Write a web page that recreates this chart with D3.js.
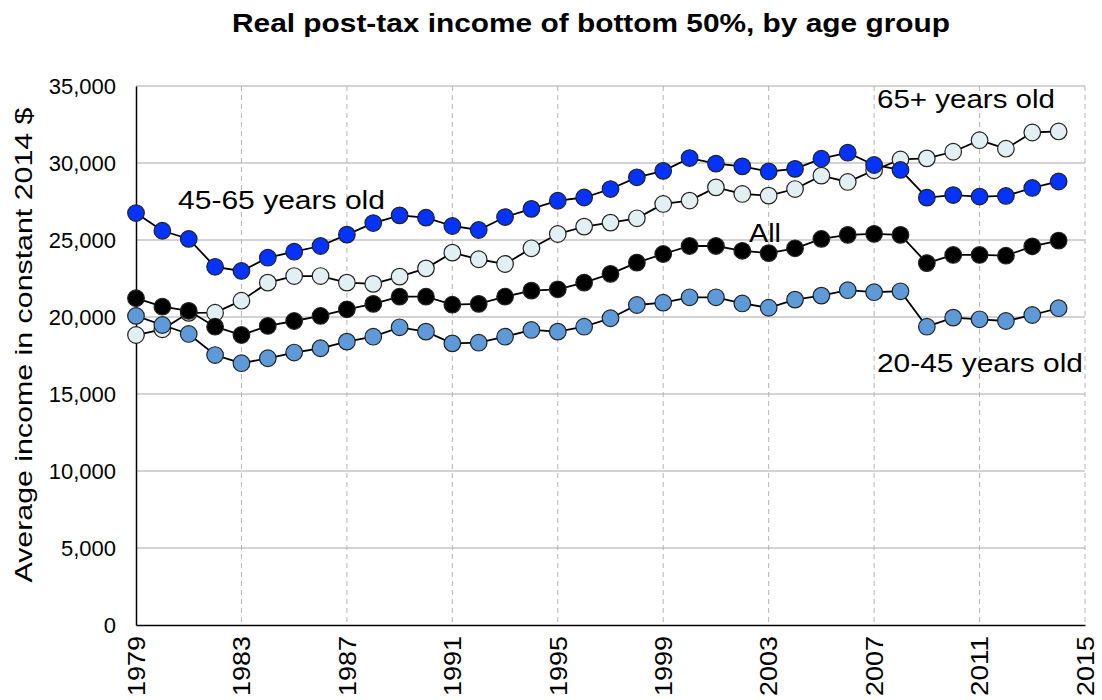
<!DOCTYPE html>
<html>
<head>
<meta charset="utf-8">
<script src="https://cdn.jsdelivr.net/npm/d3@7"></script>
<style>
  body { margin: 0; background: #fff; }
  text { font-family: "Liberation Sans", Arial, sans-serif; fill: #000; }
</style>
</head>
<body>
<svg id="chart" width="1102" height="700"></svg>
<script>
var years = d3.range(1979, 2015)

// 45-65 years old
var age4565 = [26750, 25600, 25070, 23260, 22990, 23850, 24240, 24610, 25350, 26100,
  26600, 26450, 25910, 25650, 26490, 27020, 27550, 27760, 28310, 29070,
  29490, 30320, 29960, 29780, 29450, 29620, 30280, 30670, 29870, 29550,
  27750, 27920, 27820, 27860, 28380, 28800]
// 65+ years old
var age65 = [18830, 19200, 20270, 20280, 21060, 22230, 22660, 22660, 22230, 22150,
  22620, 23160, 24180, 23750, 23440, 24460, 25390, 25870, 26130, 26410,
  27340, 27560, 28420, 27990, 27880, 28310, 29180, 28770, 29530, 30230,
  30300, 30730, 31480, 30930, 31980, 32050]
// All
var ageAll = [21220, 20670, 20400, 19370, 18830, 19420, 19740, 20070, 20500, 20850,
  21320, 21320, 20800, 20850, 21320, 21710, 21800, 22230, 22800, 23530,
  24090, 24610, 24610, 24300, 24150, 24460, 25070, 25330, 25400, 25330,
  23500, 24030, 24030, 23980, 24590, 24960]
// 20-45 years old
var age2045 = [20070, 19480, 18900, 17530, 17000, 17320, 17690, 17970, 18400, 18720,
  19330, 19050, 18290, 18330, 18720, 19160, 19050, 19370, 19920, 20780,
  20930, 21280, 21280, 20880, 20600, 21130, 21390, 21740, 21610, 21670,
  19370, 19960, 19850, 19740, 20130, 20570]

var yTicks = [0, 5000, 10000, 15000, 20000, 25000, 30000, 35000]
var xTicks = [1979, 1983, 1987, 1991, 1995, 1999, 2003, 2007, 2011, 2015]

var series = [
  { name: '65+ years old', values: age65, color: '#e2eff3' },
  { name: '45-65 years old', values: age4565, color: '#0433ff' },
  { name: 'All', values: ageAll, color: '#000000' },
  { name: '20-45 years old', values: age2045, color: '#5e9ad8' }
]

var svg = d3.select('#chart')
var margin = { left: 136, right: 17, top: 86, bottom: 75 }
var width = 1102 - margin.left - margin.right
var height = 700 - margin.top - margin.bottom

var x = d3.scaleLinear().domain([1979, 2015]).range([margin.left, margin.left + width])
var y = d3.scaleLinear().domain([0, 35000]).range([margin.top + height, margin.top])

// horizontal grid
svg.append('g')
  .selectAll('line')
  .data(yTicks.slice(1))
  .enter().append('line')
  .attr('x1', x(1979)).attr('x2', x(2015))
  .attr('y1', function(d) { return y(d) })
  .attr('y2', function(d) { return y(d) })
  .attr('stroke', '#c4c4c4')
  .attr('stroke-width', 1.5)

// vertical grid (dashed)
svg.append('g')
  .selectAll('line')
  .data(xTicks.slice(1))
  .enter().append('line')
  .attr('x1', function(d) { return x(d) })
  .attr('x2', function(d) { return x(d) })
  .attr('y1', y(35000)).attr('y2', y(0))
  .attr('stroke', '#b5b5b5')
  .attr('stroke-width', 1)
  .attr('stroke-dasharray', '5,4')

// axes
var yAxis = svg.append('g')
  .attr('transform', 'translate(' + x(1979) + ',0)')
  .call(d3.axisLeft(y).tickValues(yTicks).tickSize(0).tickPadding(20)
    .tickFormat(d3.format(',')))
yAxis.select('.domain').attr('stroke', '#000').attr('stroke-width', 1.5)
yAxis.selectAll('text').style('font-size', '22px').attr('fill', '#000')

var xAxis = svg.append('g')
  .attr('transform', 'translate(0,' + y(0) + ')')
  .call(d3.axisBottom(x).tickValues(xTicks).tickSize(0).tickFormat(d3.format('d')))
xAxis.select('.domain').attr('stroke', '#000').attr('stroke-width', 1.5)
xAxis.selectAll('text')
  .style('font-size', '23px')
  .attr('fill', '#000')
  .attr('transform', 'rotate(-90)')
  .attr('text-anchor', 'end')
  .attr('x', -11)
  .attr('y', 0)
  .attr('dy', '0.36em')
  .attr('textLength', 60)
  .attr('lengthAdjust', 'spacingAndGlyphs')

// y title
svg.append('text')
  .attr('transform', 'translate(32,345) rotate(-90)')
  .attr('text-anchor', 'middle')
  .style('font-size', '24px')
  .attr('textLength', 475)
  .attr('lengthAdjust', 'spacingAndGlyphs')
  .text('Average income in constant 2014 $')

// title
svg.append('text')
  .attr('x', 232).attr('y', 32)
  .style('font-size', '26px')
  .style('font-weight', 'bold')
  .attr('textLength', 718)
  .attr('lengthAdjust', 'spacingAndGlyphs')
  .text('Real post-tax income of bottom 50%, by age group')

var line = d3.line()
  .x(function(d, i) { return x(years[i]) })
  .y(function(d) { return y(d) })

var groups = svg.selectAll('.series')
  .data(series)
  .enter().append('g')
  .attr('class', 'series')

groups.append('path')
  .attr('d', function(s) { return line(s.values) })
  .attr('fill', 'none')
  .attr('stroke', '#000')
  .attr('stroke-width', 1.8)

groups.selectAll('circle')
  .data(function(s) { return s.values.map(function(v, i) { return { v: v, i: i, c: s.color } }) })
  .enter().append('circle')
  .attr('cx', function(d) { return x(years[d.i]) })
  .attr('cy', function(d) { return y(d.v) })
  .attr('r', 8.3)
  .attr('fill', function(d) { return d.c })
  .attr('stroke', '#222')
  .attr('stroke-width', 1.2)

// series labels
var labels = [
  { t: '45-65 years old', x: 178, y: 209, w: 207 },
  { t: '65+ years old', x: 877, y: 108, w: 178 },
  { t: 'All', x: 749, y: 242, w: 32 },
  { t: '20-45 years old', x: 877, y: 372, w: 206 }
]
svg.selectAll('.lab')
  .data(labels)
  .enter().append('text')
  .attr('class', 'lab')
  .attr('x', function(d) { return d.x })
  .attr('y', function(d) { return d.y })
  .style('font-size', '26px')
  .attr('textLength', function(d) { return d.w })
  .attr('lengthAdjust', 'spacingAndGlyphs')
  .text(function(d) { return d.t })
</script>
</body>
</html>
